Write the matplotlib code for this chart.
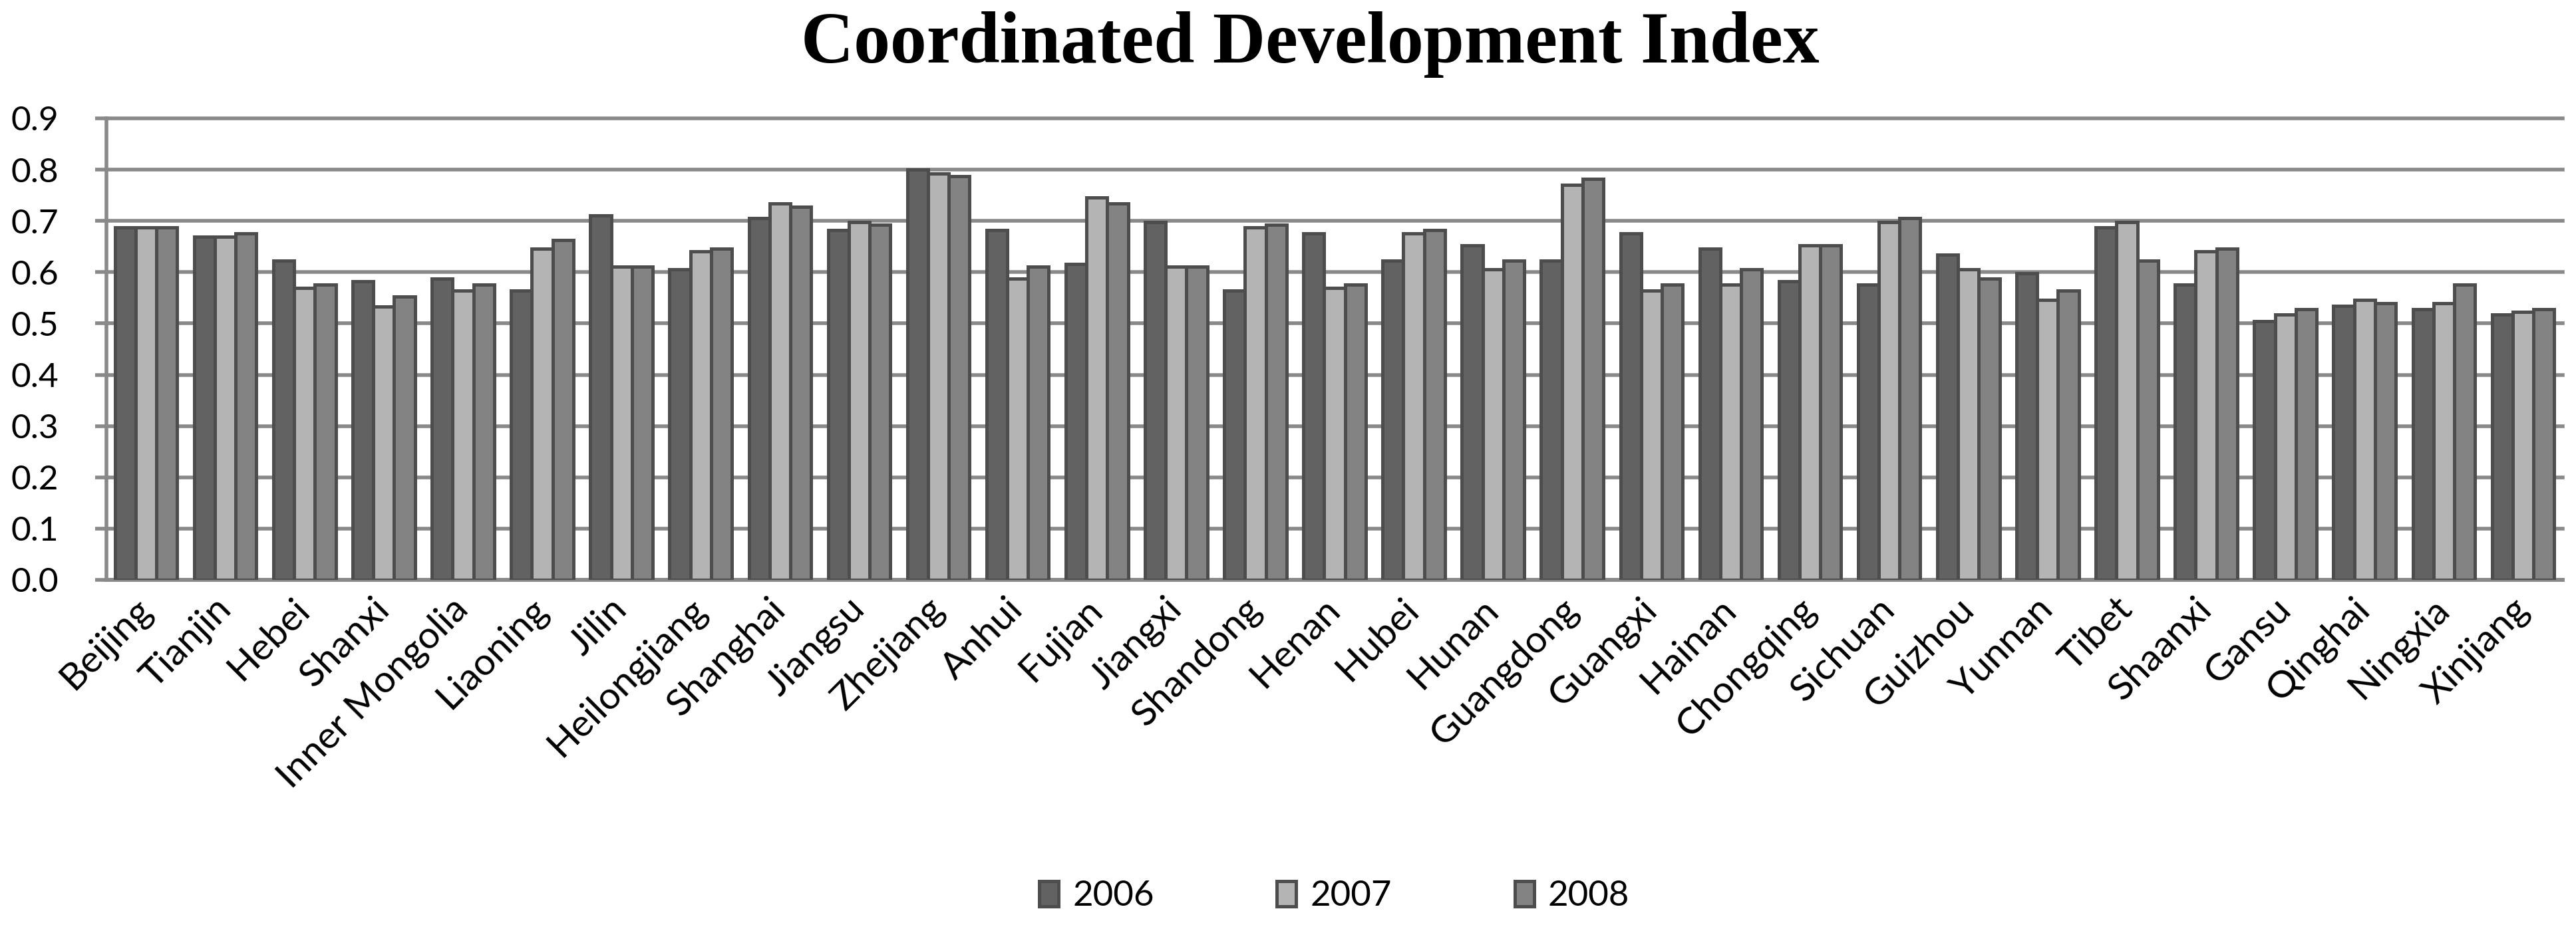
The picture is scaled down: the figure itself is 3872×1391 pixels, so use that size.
import matplotlib
matplotlib.use("Agg")
import matplotlib.pyplot as plt
import numpy as np

provinces = ["Beijing", "Tianjin", "Hebei", "Shanxi", "Inner Mongolia", "Liaoning", "Jilin",
             "Heilongjiang", "Shanghai", "Jiangsu", "Zhejiang", "Anhui", "Fujian", "Jiangxi",
             "Shandong", "Henan", "Hubei", "Hunan", "Guangdong", "Guangxi", "Hainan",
             "Chongqing", "Sichuan", "Guizhou", "Yunnan", "Tibet", "Shaanxi", "Gansu",
             "Qinghai", "Ningxia", "Xinjiang"]

v2006 = [0.687, 0.669, 0.623, 0.582, 0.587, 0.564, 0.711, 0.605, 0.705, 0.682, 0.800,
         0.682, 0.616, 0.698, 0.564, 0.675, 0.623, 0.652, 0.623, 0.675, 0.646, 0.582,
         0.576, 0.634, 0.598, 0.687, 0.576, 0.505, 0.534, 0.528, 0.517]
v2007 = [0.687, 0.669, 0.569, 0.533, 0.564, 0.646, 0.611, 0.640, 0.734, 0.698, 0.793,
         0.587, 0.746, 0.611, 0.687, 0.569, 0.675, 0.605, 0.770, 0.564, 0.576, 0.652,
         0.698, 0.605, 0.546, 0.698, 0.640, 0.517, 0.546, 0.540, 0.523]
v2008 = [0.687, 0.675, 0.576, 0.553, 0.576, 0.663, 0.611, 0.646, 0.728, 0.693, 0.787,
         0.611, 0.734, 0.611, 0.693, 0.576, 0.682, 0.623, 0.782, 0.576, 0.605, 0.652,
         0.705, 0.587, 0.564, 0.623, 0.646, 0.528, 0.540, 0.576, 0.528]

years = ["2006", "2007", "2008"]
yticks = [0.0, 0.1, 0.2, 0.3, 0.4, 0.5, 0.6, 0.7, 0.8, 0.9]
title = "Coordinated Development Index"

fills = ["#626262", "#b4b4b4", "#838383"]
edge = "#4d4d4d"
grid_c = "#898989"

W, H = 3872, 1391
fig = plt.figure(figsize=(W / 100, H / 100), dpi=100)
ax = fig.add_axes([160 / W, 1 - 872 / H, (3852 - 160) / W, (872 - 178) / H])

x = np.arange(len(provinces))
w = 0.262
handles = []
for j, (vals, col) in enumerate(zip([v2006, v2007, v2008], fills)):
    b = ax.bar(x + (j - 1) * w, vals, w, color=col, edgecolor=edge, linewidth=3.6, zorder=3)
    handles.append(b)

ax.set_xlim(-0.5, len(provinces) - 0.5)
ax.set_ylim(0, 0.9)
ax.set_yticks(yticks)
ax.set_yticklabels([f"{t:.1f}" for t in yticks], fontsize=37, family="Lato")
ax.yaxis.grid(True, color=grid_c, linewidth=4)
ax.set_axisbelow(True)
for gl in ax.get_ygridlines():
    gl.set_clip_on(False)

for s in ["top", "right"]:
    ax.spines[s].set_visible(False)
for s in ["left", "bottom"]:
    ax.spines[s].set_color(grid_c)
    ax.spines[s].set_linewidth(4)

ax.tick_params(axis="y", length=12, width=4, color=grid_c, pad=40)
ax.set_xticks(x)
ax.set_xticklabels(provinces, rotation=45, ha="right", va="center",
                   rotation_mode="anchor", fontsize=41, family="Lato")
ax.tick_params(axis="x", length=0, pad=26)

fig.text(0.5085, 1 - 94 / H, title, ha="center", va="baseline", fontsize=79,
         fontweight="bold", family="Liberation Serif")

fig.legend(handles, years, loc="center", bbox_to_anchor=(0.518, 0.031), ncol=3,
           frameon=False, prop={"family": "Lato", "size": 38}, handlelength=0.55,
           handleheight=0.75, handletextpad=0.4, columnspacing=3.5)

fig.savefig("out.png", dpi=100, facecolor="white")
